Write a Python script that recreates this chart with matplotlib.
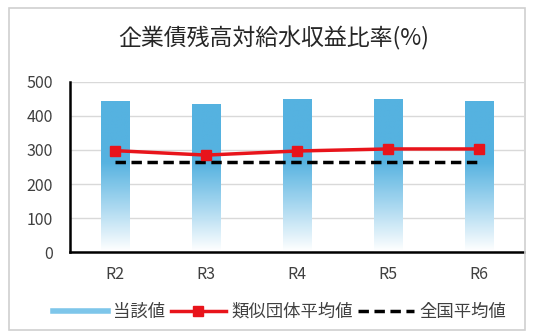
import numpy as np
import matplotlib
matplotlib.use("Agg")
from matplotlib import pyplot as plt
from matplotlib.lines import Line2D
from matplotlib.patches import Rectangle
from matplotlib.colors import LinearSegmentedColormap

plt.rcParams['font.family'] = ['Noto Sans CJK JP', 'DejaVu Sans']

# data
years = ["R2", "R3", "R4", "R5", "R6"]
own_value = [443, 433, 449, 448, 443]        # 当該値
similar_avg = [298, 285, 297, 303, 303]      # 類似団体平均値
national_avg = [264, 264, 264, 264, 264]     # 全国平均値

fig = plt.figure(figsize=(5.37, 3.33), dpi=100)
ax = fig.add_axes([0.130, 0.243, 0.846, 0.511])

# outer frame of the chart
fig.patches.append(Rectangle((0.017, 0.01), 0.96, 0.965, transform=fig.transFigure,
                             fill=False, edgecolor="#D0D0D0", lw=1.2))

x = np.arange(len(years))
bar_w = 0.31

# bars with a fade toward the bottom
blue = "#55B2E0"
cmap = LinearSegmentedColormap.from_list("fade", ["#FFFFFF", "#A9D8F0", blue, blue],
                                         N=256)
grad = np.concatenate([np.linspace(0, 0.66, 60), np.linspace(0.66, 1, 40)])[::-1]
grad = grad.reshape(-1, 1)
for i in range(len(years)):
    ax.imshow(grad, cmap=cmap, vmin=0, vmax=1, aspect="auto", interpolation="bilinear",
              extent=[x[i] - bar_w / 2, x[i] + bar_w / 2, 0, own_value[i]], zorder=2)

ax.plot(x, similar_avg, color="#E8141B", lw=2.5, marker="s", markersize=7, zorder=4)
ax.plot(x, national_avg, color="black", lw=2.5, linestyle=(0, (3, 1.6)), zorder=3)

ax.set_xlim(-0.5, 4.5)
ax.set_ylim(0, 500)
ax.set_yticks([0, 100, 200, 300, 400, 500])
ax.set_xticks(x)
ax.set_xticklabels(years)
ax.tick_params(length=0, labelsize=11.5, colors="#404040")
ax.tick_params(axis="x", pad=10)
ax.tick_params(axis="y", pad=12)
ax.grid(axis="y", color="#D9D9D9", lw=1)
ax.set_axisbelow(True)
for s in ["top", "right"]:
    ax.spines[s].set_visible(False)
ax.spines["left"].set_linewidth(1.8)
ax.spines["bottom"].set_linewidth(1.8)

fig.suptitle("企業債残高対給水収益比率(%)", x=0.51, y=0.92, fontsize=16.5, color="#262626")

handles = [Line2D([], [], color="#7EC6EA", lw=4),
           Line2D([], [], color="#E8141B", lw=2.5, marker="s", markersize=7),
           Line2D([], [], color="black", lw=2.5, linestyle=(0, (3, 1.6)))]
fig.legend(handles, ["当該値", "類似団体平均値", "全国平均値"], loc="center",
           bbox_to_anchor=(0.52, 0.063), ncol=3, frameon=False, fontsize=12.5,
           handlelength=3.2, handletextpad=0.3, columnspacing=0.3,
           labelcolor="#404040")

fig.savefig("out.png", dpi=100)
